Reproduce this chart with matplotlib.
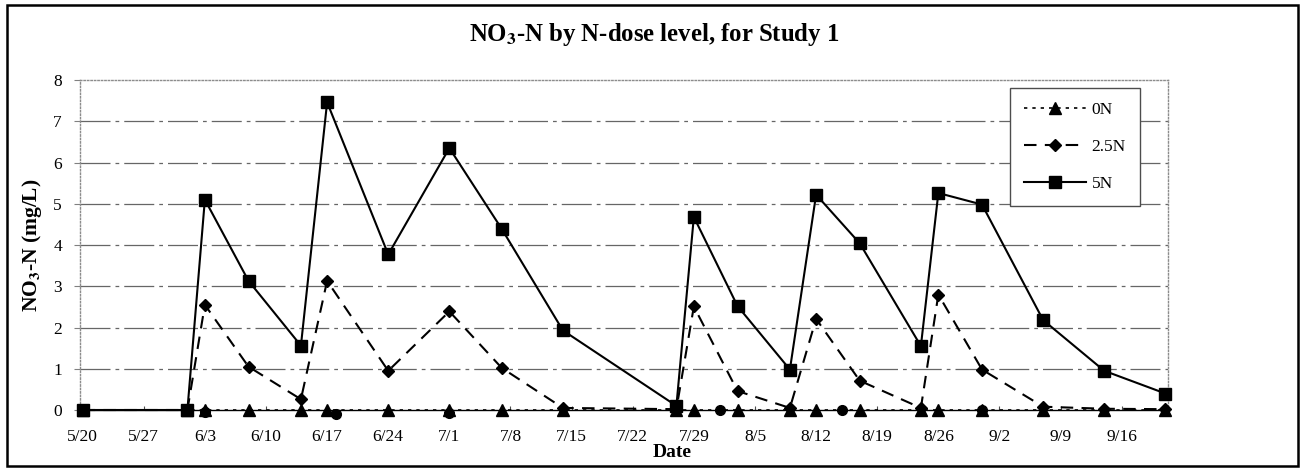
import datetime as dt
import matplotlib
matplotlib.use("Agg")
import matplotlib.pyplot as plt
from matplotlib.patches import Rectangle

plt.rcParams['font.family'] = ['Liberation Serif', 'DejaVu Serif']
plt.rcParams['mathtext.fontset'] = 'stix'

# sampling dates (month/day) and NO3-N values (mg/L)
dates = ["5/20", "6/1", "6/3", "6/8", "6/14", "6/17", "6/24", "7/1", "7/7", "7/14",
         "7/27", "7/29", "8/3", "8/9", "8/12", "8/17", "8/24", "8/26", "8/31",
         "9/7", "9/14", "9/21"]
n0 = [0, 0, 0, 0, 0, 0, 0, 0, 0, 0, 0, 0, 0, 0, 0, 0, 0, 0, 0, 0, 0, 0]
n25 = [0, 0, 2.55, 1.05, 0.26, 3.13, 0.95, 2.39, 1.02, 0.05, 0.02, 2.51, 0.46,
       0.05, 2.21, 0.71, 0.05, 2.8, 0.98, 0.08, 0.03, 0.02]
n5 = [0, 0, 5.1, 3.13, 1.56, 7.46, 3.77, 6.35, 4.39, 1.93, 0.1, 4.68, 2.52,
      0.98, 5.22, 4.04, 1.55, 5.26, 4.98, 2.18, 0.95, 0.4]

# stray round markers on the zero line
circ_dates = ["6/3", "6/18", "7/1", "8/1", "8/15", "8/31"]
circ_vals = [-0.05, -0.1, -0.08, 0, 0, 0]

tick_labels = ["5/20", "5/27", "6/3", "6/10", "6/17", "6/24", "7/1", "7/8", "7/15",
               "7/22", "7/29", "8/5", "8/12", "8/19", "8/26", "9/2", "9/9", "9/16"]

start = dt.date(2000, 5, 20)


def day(s):
    m, d = s.split("/")
    return (dt.date(2000, int(m), int(d)) - start).days


x = [day(s) for s in dates]
xc = [day(s) for s in circ_dates]
xt = [day(s) for s in tick_labels]

fig = plt.figure(figsize=(13.03, 4.69), dpi=100)
ax = fig.add_axes([80 / 1303, 59 / 469, 1088 / 1303, 330 / 469])

for v in range(1, 8):
    ax.axhline(v, color='0.4', lw=0.9, ls=(0, (24, 4, 3, 4)), zorder=1)

ax.plot(x, n0, color='black', lw=1.2, ls=(0, (2, 3)), marker='^', ms=8.5,
        label='0N', clip_on=False, zorder=4)
ax.plot(xc, circ_vals, ls='none', marker='o', color='black', ms=7,
        clip_on=False, zorder=4)
ax.plot(x, n25, color='black', lw=1.5, ls=(0, (6, 4)), marker='D', ms=6.5,
        label='2.5N', clip_on=False, zorder=5)
ax.plot(x, n5, color='black', lw=1.5, ls='-', marker='s', ms=8.5,
        label='5N', clip_on=False, zorder=6)

ax.set_xlim(-0.3, 124.3)
ax.set_ylim(0, 8)
ax.set_yticks(range(0, 9))
ax.set_xticks(xt)
ax.set_xticklabels(tick_labels)

ax.tick_params(axis='x', length=3, direction='in', pad=14, labelsize=12.5, color='0.3')
ax.tick_params(axis='y', length=4, direction='out', pad=9, labelsize=12.5, color='0.5')

for side in ['left', 'right', 'top']:
    ax.spines[side].set_color('0.55')
    ax.spines[side].set_linestyle((0, (1, 1.5)))
    ax.spines[side].set_linewidth(1)
ax.spines['bottom'].set_color('black')
ax.spines['bottom'].set_linewidth(1)

ax.set_xlabel('Date', fontsize=14, fontweight='bold')
ax.xaxis.set_label_coords((672 - 80) / 1088, -(444 - 410) / 330)
ax.set_ylabel(r'NO$_\mathbf{3}$-N (mg/L)', fontsize=15.5, fontweight='bold')
ax.yaxis.set_label_coords(-(80 - 44) / 1088, 0.5)

fig.text(0.502, 1 - 35 / 469, r'NO$_\mathbf{3}$-N by N-dose level, for Study 1',
         ha='center', va='center', fontsize=17.8, fontweight='bold')

leg = ax.legend(loc='upper right', bbox_to_anchor=(0.974, 0.976), fontsize=12.5,
                frameon=True, fancybox=False, framealpha=1, edgecolor='0.3',
                handlelength=3.6, labelspacing=1.2, borderpad=0.8, handletextpad=0.3,
                borderaxespad=0)
leg.get_frame().set_linewidth(1)

fig.patches.append(Rectangle((7 / 1303, 3 / 469), 1291 / 1303, 461 / 469,
                             transform=fig.transFigure, fill=False,
                             edgecolor='black', lw=1.8))

fig.savefig('out.png', dpi=100)
